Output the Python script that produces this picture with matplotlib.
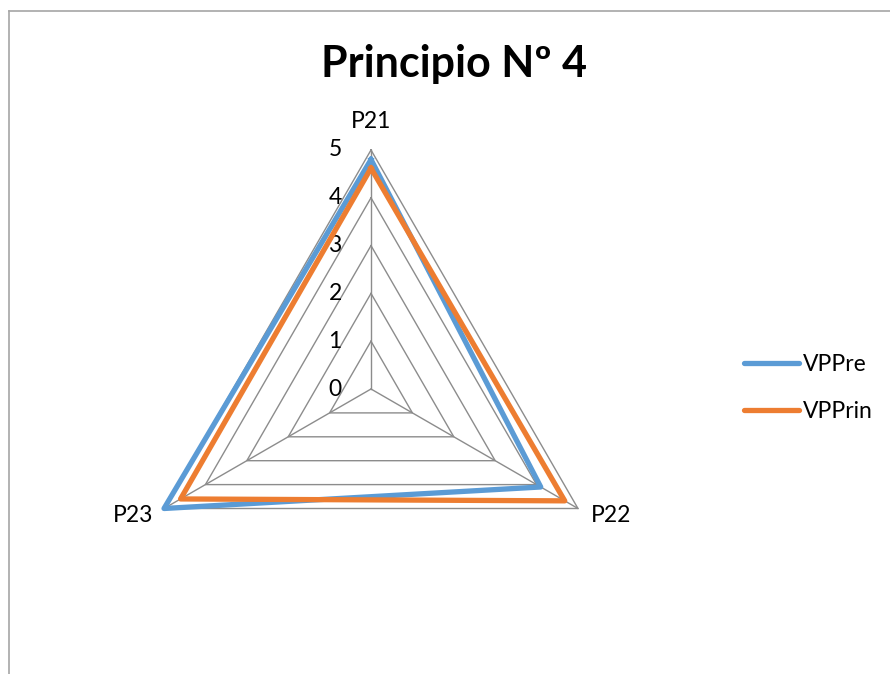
import numpy as np
import matplotlib.pyplot as plt
from matplotlib.lines import Line2D

plt.rcParams['font.family'] = ['Lato', 'DejaVu Sans']

categories = ['P21', 'P22', 'P23']
vppre = [4.8, 4.1, 5.0]
vpprin = [4.62, 4.68, 4.6]
ticks = [0, 1, 2, 3, 4, 5]
title = 'Principio Nº 4'

blue = '#5B9BD5'
orange = '#ED7D31'
gridc = '#8C8C8C'
fs = 16.5

fig = plt.figure(figsize=(8.9, 6.74), dpi=100)
ax = fig.add_axes([132/890, 46/674, 478/890, 478/674], projection='polar')
ax.set_theta_offset(np.pi/2)
ax.set_theta_direction(-1)
ax.set_ylim(0, 5)
ax.grid(False)
ax.set_xticks([])
ax.set_yticks([])
ax.spines['polar'].set_visible(False)
ax.patch.set_alpha(0)

angles = np.linspace(0, 2*np.pi, len(categories), endpoint=False)
closed = np.append(angles, angles[0])

# polygon grid
for t in ticks[1:]:
    ax.plot(closed, [t]*len(closed), color=gridc, lw=1.0, clip_on=False, zorder=1)
for a in angles:
    ax.plot([a, a], [0, ticks[-1]], color=gridc, lw=1.0, clip_on=False, zorder=1)

# tick labels
for t in ticks:
    ax.annotate(str(t), xy=(0, t), xytext=(-36, 0), textcoords='offset pixels',
                ha='center', va='center', fontsize=fs, color='#000000')

# category labels
offs = [(0, 28), (33, -7), (-31, -7)]
for a, c, o in zip(angles, categories, offs):
    ax.annotate(c, xy=(a, ticks[-1]), xytext=o, textcoords='offset pixels',
                ha='center', va='center', fontsize=fs, color='#000000')

ax.plot(closed, vppre + vppre[:1], color=blue, lw=3.8, solid_joinstyle='round',
        clip_on=False, zorder=3)
ax.plot(closed, vpprin + vpprin[:1], color=orange, lw=3.8, solid_joinstyle='round',
        clip_on=False, zorder=4)

fig.text(454/890, 1-77/674, title, ha='center', va='baseline', fontsize=31, fontweight='bold')

handles = [Line2D([], [], color=blue, lw=3.8, solid_capstyle='round'),
           Line2D([], [], color=orange, lw=3.8, solid_capstyle='round')]
fig.legend(handles, ['VPPre', 'VPPrin'], loc='center left',
           bbox_to_anchor=(723/890, 1-388/674), frameon=False, fontsize=fs,
           handlelength=2.4, handletextpad=0.18, labelspacing=1.12)

# chart border
fig.add_artist(Line2D([9/890, 9/890], [0, 1-11/674], color='#A6A6A6', lw=1.2))
fig.add_artist(Line2D([9/890, 1], [1-11/674, 1-11/674], color='#A6A6A6', lw=1.2))

fig.savefig('out.png', dpi=100)
